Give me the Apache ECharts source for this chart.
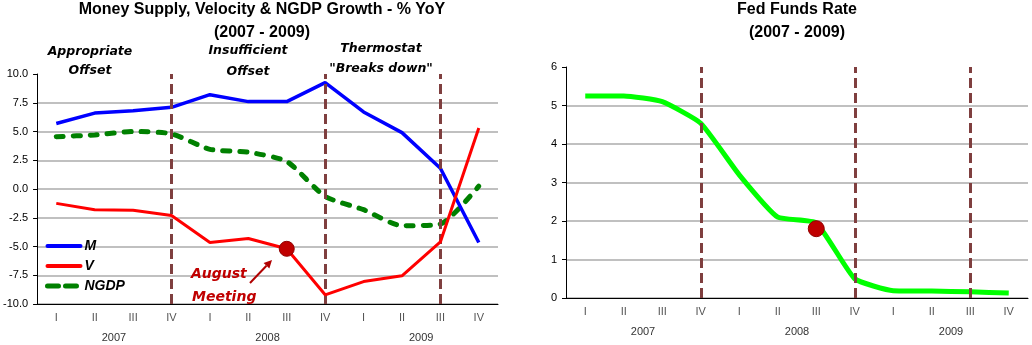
<!DOCTYPE html>
<html>
<head>
<meta charset="utf-8">
<script src="https://cdn.jsdelivr.net/npm/echarts@6/dist/echarts.min.js"></script>
<style>
  html, body { margin: 0; padding: 0; background: #fff; }
  #chart { width: 1032px; height: 345px; }
</style>
</head>
<body>
<div id="chart"></div>
<script>
// Quarterly axis labels
const years = ['2007', '2008', '2009'];
const quarterNames = ['I', 'II', 'III', 'IV'];

// Year-over-year growth, % (left panel)
const moneyM    = [5.7, 6.6, 6.8, 7.1, 8.2, 7.6, 7.6, 9.25, 6.7, 4.9, 1.8, -4.65];
const velocityV = [-1.25, -1.8, -1.85, -2.3, -4.65, -4.3, -5.2, -9.2, -8.05, -7.55, -4.6, 5.3];
const ngdp      = [4.55, 4.7, 5.0, 4.8, 3.45, 3.2, 2.4, -0.65, -1.8, -3.2, -3.05, 0.25];

// Effective fed funds rate, % (right panel)
const fedFunds  = [5.25, 5.25, 5.1, 4.54, 3.2, 2.1, 1.95, 0.5, 0.19, 0.18, 0.16, 0.13];
const fedAtMeeting = 1.8;

// Axis ticks
const growthTicks = [-10, -7.5, -5, -2.5, 0, 2.5, 5, 7.5, 10];
const rateTicks = [0, 1, 2, 3, 4, 5, 6];

// Regime boundaries and the August 2008 FOMC meeting
const regimeBreaks = ['2007 IV', '2008 IV', '2009 III'];
const meetingQuarter = '2008 III';

const categories = years.flatMap(y => quarterNames.map(q => y + ' ' + q));
const meetingIdx = categories.indexOf(meetingQuarter);

const axisFont = 'Liberation Sans, Arial, sans-serif';
const boldFont = '"DejaVu Sans", Verdana, sans-serif';

function splitColors(n) {
  const c = [];
  for (let i = 0; i < n; i++) c.push(i === n - 1 ? 'transparent' : '#c0c0c0');
  return c;
}

function quarterAxis(gridIndex) {
  return {
    gridIndex, type: 'category', data: categories, boundaryGap: true,
    axisLine: { onZero: false, lineStyle: { color: '#000', width: 1 } },
    axisTick: { length: 4, lineStyle: { color: '#000' } },
    axisLabel: { formatter: v => v.split(' ')[1], color: '#555', fontSize: 11, margin: 8, fontFamily: axisFont },
    splitLine: { show: false }
  };
}
function yearAxis(gridIndex) {
  return {
    gridIndex, type: 'category', data: years, position: 'bottom', boundaryGap: true,
    axisLine: { show: false, onZero: false },
    axisTick: { length: 7, lineStyle: { color: '#000' } },
    axisLabel: { color: '#333', fontSize: 11, margin: 28, fontFamily: axisFont },
    splitLine: { show: false }
  };
}

const breakLines = {
  symbol: 'none', silent: true, animation: false,
  label: { show: false },
  lineStyle: { color: '#7f3f3f', width: 3, type: [10, 5] },
  data: regimeBreaks.map(q => ({ xAxis: q }))
};

const option = {
  animation: false,
  backgroundColor: '#fff',
  grid: [
    { left: 33, right: 534, top: 74, bottom: 41 },
    { left: 566, right: 4, top: 67, bottom: 47 }
  ],
  xAxis: [quarterAxis(0), yearAxis(0), quarterAxis(1), yearAxis(1)],
  yAxis: [
    {
      gridIndex: 0, type: 'value',
      min: growthTicks[0], max: growthTicks[growthTicks.length - 1], interval: growthTicks[1] - growthTicks[0],
      axisLine: { show: true, lineStyle: { color: '#000' } },
      axisTick: { show: true, length: 4, lineStyle: { color: '#000' } },
      axisLabel: { formatter: v => v.toFixed(1), color: '#000', fontSize: 11, margin: 9, fontFamily: axisFont },
      splitLine: { lineStyle: { color: splitColors(growthTicks.length), width: 2 } }
    },
    {
      gridIndex: 1, type: 'value',
      min: rateTicks[0], max: rateTicks[rateTicks.length - 1], interval: rateTicks[1] - rateTicks[0],
      axisLine: { show: true, lineStyle: { color: '#000' } },
      axisTick: { show: true, length: 4, lineStyle: { color: '#000' } },
      axisLabel: { color: '#000', fontSize: 11, margin: 9, fontFamily: axisFont },
      splitLine: { lineStyle: { color: splitColors(rateTicks.length), width: 2 } }
    }
  ],
  legend: {
    data: [
      { name: 'M', lineStyle: { width: 4, cap: 'round' } },
      { name: 'V', lineStyle: { width: 4, cap: 'round' } },
      { name: 'NGDP', lineStyle: { width: 5, type: [11, 7], cap: 'round' } }
    ],
    orient: 'vertical', left: 45, top: 239, padding: 0,
    itemWidth: 33, itemHeight: 14, itemGap: 6,
    itemStyle: { color: 'transparent', borderWidth: 0, opacity: 0 },
    textStyle: { fontWeight: 'bold', fontStyle: 'italic', fontSize: 14, color: '#000', fontFamily: axisFont, padding: [0, 0, 0, -1] },
    selectedMode: false
  },
  series: [
    { name: 'breaksL', type: 'line', xAxisIndex: 0, yAxisIndex: 0, data: [], z: 1, markLine: breakLines },
    {
      name: 'NGDP', type: 'line', xAxisIndex: 0, yAxisIndex: 0, data: ngdp,
      symbol: 'none', smooth: 0.2, z: 3,
      lineStyle: { color: '#008000', width: 5, type: [7, 10], cap: 'round' },
      itemStyle: { color: '#008000' }
    },
    {
      name: 'M', type: 'line', xAxisIndex: 0, yAxisIndex: 0, data: moneyM,
      symbol: 'none', z: 4,
      lineStyle: { color: '#0000ff', width: 3.5 }, itemStyle: { color: '#0000ff' }
    },
    {
      name: 'V', type: 'line', xAxisIndex: 0, yAxisIndex: 0, data: velocityV,
      symbol: 'none', z: 5,
      lineStyle: { color: '#ff0000', width: 3 }, itemStyle: { color: '#ff0000' }
    },
    {
      name: 'meetingV', type: 'scatter', xAxisIndex: 0, yAxisIndex: 0, z: 6,
      data: [[meetingQuarter, velocityV[meetingIdx]]],
      symbolSize: 15, itemStyle: { color: '#c00000', borderColor: '#900000', borderWidth: 1, opacity: 1 }
    },
    { name: 'breaksR', type: 'line', xAxisIndex: 2, yAxisIndex: 1, data: [], z: 1, markLine: breakLines },
    {
      name: 'Fed Funds', type: 'line', xAxisIndex: 2, yAxisIndex: 1, data: fedFunds,
      symbol: 'none', smooth: 0.15, z: 3,
      lineStyle: { color: '#00ff00', width: 5 }
    },
    {
      name: 'meetingFF', type: 'scatter', xAxisIndex: 2, yAxisIndex: 1, z: 6,
      data: [[meetingQuarter, fedAtMeeting]],
      symbolSize: 16, itemStyle: { color: '#c00000', borderColor: '#900000', borderWidth: 1, opacity: 1 }
    }
  ]
};

const chart = echarts.init(document.getElementById('chart'), null, { renderer: 'canvas' });
chart.setOption(option);

// Titles, regime captions and the meeting callout
function txt(x, y, text, font, fill, align) {
  return {
    type: 'text', x, y, silent: true, z: 10,
    style: { text, font, fill: fill || '#000', align: align || 'center', verticalAlign: 'middle' }
  };
}
const titleFont = 'bold 16px ' + axisFont;
const noteFont = 'italic bold 12.5px ' + boldFont;
const calloutFont = 'italic bold 14px ' + boldFont;

// Arrow from the callout text toward the meeting dot
const tail = [250, 283];
const tip = [272, 260];
const dx = tip[0] - tail[0], dy = tip[1] - tail[1];
const len = Math.hypot(dx, dy);
const ux = dx / len, uy = dy / len;
const bx = tip[0] - ux * 8, by = tip[1] - uy * 8;
const head = [tip, [bx - uy * 4, by + ux * 4], [bx + uy * 4, by - ux * 4]];

chart.setOption({
  graphic: [
    txt(262, 10, 'Money Supply, Velocity & NGDP Growth - % YoY', titleFont),
    txt(262, 33, '(2007 - 2009)', titleFont),
    txt(797, 10, 'Fed Funds Rate', titleFont),
    txt(797, 33, '(2007 - 2009)', titleFont),
    txt(90, 52, 'Appropriate', noteFont),
    txt(90, 71, 'Offset', noteFont),
    txt(248, 51, 'Insufficient', noteFont),
    txt(248, 72, 'Offset', noteFont),
    txt(381, 49, 'Thermostat', noteFont),
    txt(381, 69, '"Breaks down"', noteFont),
    txt(191, 274, 'August', calloutFont, '#c00000', 'left'),
    txt(192, 297, 'Meeting', calloutFont, '#c00000', 'left'),
    {
      type: 'line', silent: true, z: 10,
      shape: { x1: tail[0], y1: tail[1], x2: bx, y2: by },
      style: { stroke: '#b00000', lineWidth: 2 }
    },
    {
      type: 'polygon', silent: true, z: 10,
      shape: { points: head },
      style: { fill: '#b00000' }
    }
  ]
});
</script>
</body>
</html>
